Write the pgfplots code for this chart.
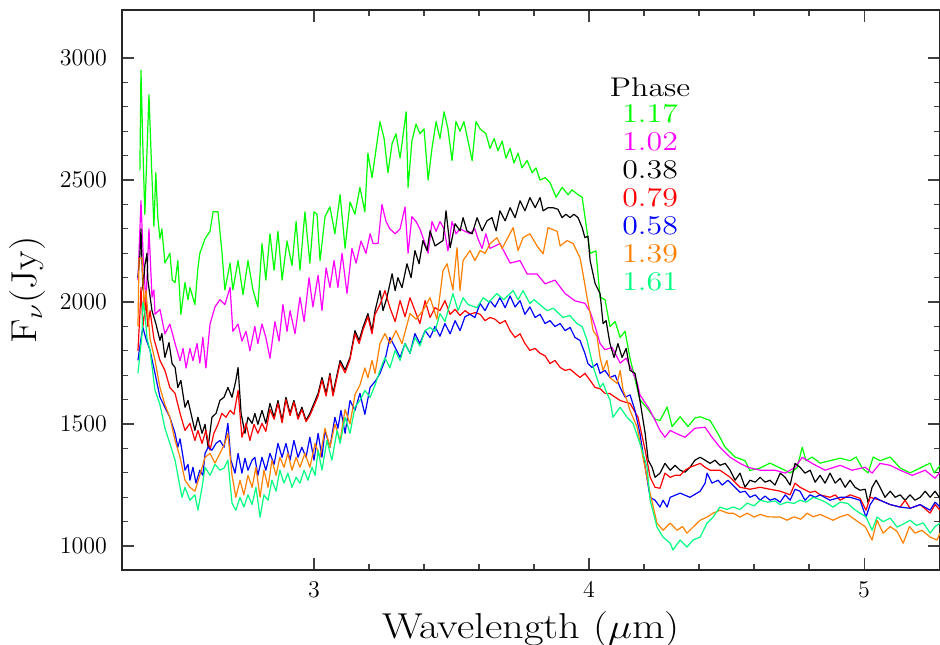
\documentclass[border=0pt]{standalone}
\usepackage{graphicx}
\usepackage{pgfplots}
\pgfplotsset{compat=1.18}
\definecolor{pggreen}{rgb}{0,1,0}
\definecolor{pgmag}{rgb}{1,0,1}
\definecolor{pgorange}{rgb}{1,0.5,0}
\definecolor{pgsgreen}{rgb}{0,1,0.5}
\newcommand{\tickfont}{\fontsize{12}{14}\selectfont}
\newcommand{\labfont}{\fontsize{18}{21}\selectfont}
\newcommand{\keyfont}{\fontsize{13.5}{15}\selectfont}
\newcommand{\wide}[1]{\scalebox{1.18}[1]{#1}}

\begin{document}
\begin{tikzpicture}
\useasboundingbox (-61pt,-37pt) rectangle (409pt,285pt);
\begin{axis}[
    at={(0,0)}, anchor=south west,
    scale only axis, width=409pt, height=280pt,
    xmin=2.302, xmax=5.276, ymin=902, ymax=3197,
    xtick={3,4,5}, ytick={1000,1500,2000,2500,3000},
    minor x tick num=4, minor y tick num=4,
    tick align=inside,
    major tick length=6pt, minor tick length=3pt,
    tick style={black!75, line width=0.6pt},
    axis line style={black!85, line width=0.75pt},
    scaled ticks=false,
    /pgf/number format/assume math mode=true,
    /pgf/number format/1000 sep={},
    ticklabel style={font=\tickfont},
    yticklabel style={xshift=-4pt},
    xticklabel style={anchor=north, yshift=-2pt},
    xlabel={\wide{Wavelength ($\mu$m)}},
    ylabel={\scalebox{1.12}[1]{F$_\nu$(Jy)}},
    label style={font=\labfont},
    xlabel style={at={(axis description cs:0.5,0)}, anchor=base, yshift=-34pt},
    ylabel style={at={(axis description cs:-0.115,0.5)}, anchor=center},
    every axis plot/.append style={line width=0.6pt, line join=round},
]
% phase 1.17
\addplot[pggreen] coordinates {
(2.367,2540) (2.371,2950) (2.377,2670) (2.385,2360) (2.400,2850) (2.410,2540) (2.418,2310) (2.425,2530) (2.432,2350) (2.440,2260) (2.447,2300) (2.458,2160) (2.476,2200) (2.485,2090) (2.495,2080) (2.505,2170) (2.516,1950) (2.531,2080) (2.542,2010) (2.549,2060) (2.567,1990) (2.578,2140) (2.585,2200) (2.604,2260) (2.622,2290) (2.633,2370) (2.651,2370) (2.665,2210) (2.676,2050) (2.695,2160) (2.705,2050) (2.724,2170) (2.742,2030) (2.760,2170) (2.778,2050) (2.796,1980) (2.811,2240) (2.825,2090) (2.840,2280) (2.855,2130) (2.869,2290) (2.884,2090) (2.902,2250) (2.920,2150) (2.935,2330) (2.949,2130) (2.967,2370) (2.985,2160) (3.000,2370) (3.011,2360) (3.022,2170) (3.040,2350) (3.058,2390) (3.076,2280) (3.095,2440) (3.113,2220) (3.131,2410) (3.149,2360) (3.167,2470) (3.185,2370) (3.196,2610) (3.211,2510) (3.240,2740) (3.255,2670) (3.269,2530) (3.284,2650) (3.298,2690) (3.313,2590) (3.335,2780) (3.342,2470) (3.356,2660) (3.371,2730) (3.385,2690) (3.400,2710) (3.415,2500) (3.429,2630) (3.444,2740) (3.458,2670) (3.473,2780) (3.487,2710) (3.502,2580) (3.516,2740) (3.531,2700) (3.545,2740) (3.560,2660) (3.575,2580) (3.589,2740) (3.604,2710) (3.625,2690) (3.640,2630) (3.655,2670) (3.669,2620) (3.684,2660) (3.698,2590) (3.713,2630) (3.727,2570) (3.742,2610) (3.756,2550) (3.775,2580) (3.793,2530) (3.807,2550) (3.822,2500) (3.840,2510) (3.858,2490) (3.880,2430) (3.902,2470) (3.924,2440) (3.938,2460) (3.960,2440) (3.975,2430) (3.985,2350) (4.004,2200) (4.025,2210) (4.040,2020) (4.058,2010) (4.076,1900) (4.095,1920) (4.113,1855) (4.131,1880) (4.149,1770) (4.185,1600) (4.215,1560) (4.240,1520) (4.258,1515) (4.284,1570) (4.302,1490) (4.331,1530) (4.360,1490) (4.385,1525) (4.404,1530) (4.440,1515) (4.469,1460) (4.495,1405) (4.531,1365) (4.567,1350) (4.585,1310) (4.622,1320) (4.658,1340) (4.695,1320) (4.731,1300) (4.756,1320) (4.775,1405) (4.789,1350) (4.811,1365) (4.840,1340) (4.876,1350) (4.913,1360) (4.949,1350) (4.971,1365) (4.993,1320) (5.015,1300) (5.033,1365) (5.058,1350) (5.095,1365) (5.131,1320) (5.167,1300) (5.204,1320) (5.240,1340) (5.255,1300) (5.276,1330)
};
% phase 1.02
\addplot[pgmag] coordinates {
(2.360,2090) (2.371,2415) (2.378,2220) (2.389,1990) (2.400,2300) (2.411,2020) (2.418,2050) (2.422,1950) (2.440,1970) (2.458,1870) (2.476,1910) (2.495,1830) (2.513,1760) (2.524,1810) (2.535,1730) (2.549,1810) (2.560,1760) (2.575,1830) (2.585,1750) (2.596,1855) (2.607,1730) (2.622,1910) (2.640,1980) (2.658,2010) (2.676,1990) (2.695,2060) (2.705,1880) (2.724,1910) (2.738,1840) (2.753,1880) (2.767,1800) (2.785,1900) (2.796,1830) (2.811,1910) (2.825,1855) (2.840,1770) (2.858,1920) (2.873,1840) (2.887,1990) (2.902,1880) (2.913,1965) (2.931,1870) (2.949,2020) (2.964,1920) (2.982,2100) (2.996,1980) (3.015,2110) (3.029,1965) (3.044,2140) (3.058,2060) (3.073,2170) (3.087,2060) (3.102,2200) (3.120,2035) (3.138,2220) (3.153,2160) (3.171,2250) (3.189,2200) (3.204,2280) (3.215,2240) (3.233,2240) (3.247,2400) (3.262,2330) (3.276,2300) (3.295,2280) (3.313,2300) (3.331,2390) (3.342,2200) (3.356,2350) (3.371,2330) (3.385,2300) (3.404,2240) (3.415,2200) (3.429,2330) (3.444,2290) (3.458,2330) (3.473,2300) (3.487,2210) (3.502,2330) (3.516,2280) (3.531,2300) (3.549,2290) (3.567,2280) (3.585,2300) (3.596,2260) (3.611,2220) (3.625,2280) (3.640,2220) (3.676,2240) (3.713,2160) (3.749,2170) (3.775,2115) (3.811,2115) (3.840,2075) (3.876,2090) (3.913,2035) (3.949,2005) (3.985,1995) (4.004,1960) (4.022,1900) (4.040,1830) (4.058,1805) (4.084,1814) (4.113,1750) (4.135,1770) (4.156,1720) (4.175,1670) (4.185,1620) (4.222,1556) (4.258,1474) (4.276,1446) (4.295,1474) (4.316,1462) (4.349,1446) (4.385,1483) (4.422,1487) (4.447,1446) (4.476,1405) (4.513,1364) (4.549,1339) (4.578,1323) (4.622,1311) (4.676,1311) (4.713,1299) (4.749,1323) (4.775,1364) (4.811,1339) (4.858,1311) (4.913,1331) (4.956,1311) (5.004,1323) (5.029,1299) (5.058,1339) (5.095,1331) (5.131,1311) (5.175,1290) (5.222,1311) (5.258,1278) (5.276,1303)
};
% phase 0.38
\addplot[black] coordinates {
(2.360,2100) (2.367,2190) (2.371,2300) (2.378,2050) (2.385,2150) (2.393,2200) (2.396,2090) (2.411,1965) (2.425,1912) (2.440,1843) (2.447,1871) (2.458,1773) (2.473,1834) (2.484,1748) (2.495,1732) (2.505,1650) (2.516,1679) (2.531,1569) (2.542,1597) (2.556,1528) (2.567,1474) (2.578,1528) (2.593,1462) (2.604,1499) (2.615,1405) (2.629,1528) (2.644,1544) (2.658,1597) (2.673,1610) (2.687,1650) (2.702,1610) (2.716,1679) (2.724,1732) (2.735,1544) (2.749,1462) (2.760,1528) (2.775,1503) (2.785,1544) (2.796,1499) (2.811,1556) (2.825,1503) (2.840,1585) (2.855,1528) (2.869,1597) (2.884,1515) (2.898,1610) (2.913,1544) (2.927,1597) (2.942,1528) (2.956,1569) (2.971,1515) (2.985,1544) (3.000,1585) (3.015,1626) (3.029,1691) (3.044,1626) (3.058,1708) (3.069,1626) (3.095,1761) (3.113,1722) (3.131,1773) (3.149,1883) (3.164,1843) (3.178,1896) (3.196,1953) (3.211,1883) (3.222,1965) (3.240,2047) (3.251,1965) (3.265,2018) (3.284,2116) (3.295,2047) (3.305,2100) (3.320,2059) (3.338,2157) (3.353,2100) (3.367,2211) (3.382,2157) (3.396,2252) (3.411,2211) (3.422,2292) (3.440,2230) (3.469,2252) (3.480,2374) (3.495,2223) (3.513,2321) (3.531,2292) (3.542,2346) (3.556,2292) (3.575,2280) (3.593,2346) (3.611,2292) (3.629,2333) (3.647,2346) (3.662,2292) (3.676,2374) (3.695,2333) (3.713,2387) (3.731,2346) (3.749,2415) (3.767,2374) (3.785,2428) (3.804,2387) (3.822,2428) (3.833,2374) (3.851,2387) (3.869,2387) (3.887,2380) (3.902,2346) (3.916,2360) (3.931,2346) (3.945,2360) (3.960,2346) (3.975,2305) (3.985,2264) (3.996,2270) (4.004,2170) (4.022,2076) (4.040,2035) (4.051,1912) (4.062,1924) (4.076,1830) (4.091,1773) (4.105,1830) (4.120,1773) (4.135,1810) (4.149,1720) (4.167,1708) (4.185,1597) (4.204,1462) (4.215,1352) (4.229,1323) (4.240,1282) (4.258,1299) (4.276,1339) (4.295,1311) (4.313,1331) (4.331,1311) (4.349,1303) (4.367,1323) (4.385,1352) (4.404,1364) (4.422,1352) (4.440,1339) (4.458,1352) (4.476,1331) (4.495,1339) (4.513,1311) (4.531,1270) (4.549,1299) (4.567,1241) (4.585,1270) (4.604,1262) (4.622,1282) (4.640,1262) (4.658,1270) (4.676,1250) (4.695,1299) (4.713,1282) (4.731,1250) (4.749,1339) (4.767,1323) (4.785,1299) (4.804,1311) (4.822,1262) (4.840,1290) (4.858,1258) (4.876,1299) (4.895,1258) (4.913,1278) (4.931,1241) (4.949,1270) (4.967,1241) (4.985,1229) (5.004,1233) (5.015,1176) (5.029,1241) (5.044,1270) (5.058,1241) (5.076,1200) (5.095,1225) (5.113,1200) (5.131,1210) (5.149,1188) (5.167,1210) (5.185,1188) (5.204,1200) (5.222,1225) (5.240,1200) (5.258,1225) (5.276,1196)
};
% phase 0.79
\addplot[red] coordinates {
(2.360,1800) (2.367,1950) (2.371,2060) (2.378,1900) (2.389,2000) (2.396,1900) (2.404,1965) (2.418,1850) (2.440,1761) (2.458,1720) (2.476,1650) (2.495,1626) (2.513,1544) (2.531,1474) (2.549,1503) (2.567,1433) (2.578,1474) (2.593,1421) (2.607,1474) (2.622,1393) (2.636,1462) (2.651,1499) (2.665,1544) (2.680,1528) (2.695,1556) (2.709,1540) (2.724,1638) (2.738,1446) (2.753,1503) (2.767,1433) (2.782,1499) (2.796,1462) (2.811,1503) (2.825,1470) (2.840,1560) (2.855,1520) (2.869,1585) (2.884,1505) (2.898,1600) (2.913,1535) (2.927,1590) (2.942,1520) (2.956,1560) (2.971,1510) (2.985,1535) (3.000,1575) (3.015,1615) (3.029,1680) (3.044,1615) (3.058,1700) (3.069,1615) (3.095,1750) (3.113,1710) (3.131,1765) (3.149,1870) (3.164,1830) (3.178,1885) (3.196,1940) (3.211,1870) (3.222,1950) (3.240,1990) (3.258,2047) (3.276,1977) (3.295,1920) (3.313,2006) (3.331,1940) (3.349,2018) (3.367,1965) (3.385,1912) (3.404,2006) (3.422,1937) (3.440,1977) (3.458,1965) (3.476,2006) (3.495,1950) (3.513,1970) (3.531,1945) (3.549,1965) (3.567,1950) (3.585,1957) (3.604,1950) (3.622,1924) (3.640,1937) (3.658,1930) (3.676,1912) (3.695,1924) (3.713,1883) (3.731,1855) (3.749,1870) (3.767,1830) (3.785,1802) (3.804,1810) (3.822,1790) (3.840,1780) (3.858,1748) (3.876,1761) (3.895,1732) (3.913,1720) (3.931,1725) (3.949,1708) (3.967,1691) (3.985,1708) (4.004,1679) (4.022,1650) (4.040,1645) (4.058,1626) (4.076,1625) (4.095,1610) (4.113,1597) (4.131,1590) (4.149,1585) (4.178,1528) (4.204,1393) (4.222,1282) (4.240,1241) (4.258,1237) (4.276,1299) (4.295,1282) (4.313,1290) (4.331,1290) (4.349,1311) (4.367,1323) (4.404,1339) (4.422,1323) (4.440,1311) (4.476,1311) (4.513,1282) (4.549,1241) (4.585,1233) (4.622,1241) (4.658,1233) (4.695,1225) (4.731,1210) (4.749,1258) (4.767,1241) (4.804,1220) (4.822,1225) (4.840,1210) (4.876,1200) (4.895,1210) (4.913,1188) (4.949,1210) (4.985,1196) (5.007,1147) (5.022,1200) (5.058,1188) (5.095,1170) (5.131,1160) (5.149,1188) (5.167,1155) (5.204,1170) (5.240,1135) (5.258,1170) (5.276,1147)
};
% phase 0.58
\addplot[blue] coordinates {
(2.360,1761) (2.371,1850) (2.378,1896) (2.389,1850) (2.404,1802) (2.422,1708) (2.440,1610) (2.458,1569) (2.476,1528) (2.495,1462) (2.505,1405) (2.513,1440) (2.524,1364) (2.531,1311) (2.542,1335) (2.549,1270) (2.560,1323) (2.571,1258) (2.585,1311) (2.596,1290) (2.604,1380) (2.615,1405) (2.629,1393) (2.644,1421) (2.658,1433) (2.673,1405) (2.687,1503) (2.698,1352) (2.713,1299) (2.724,1380) (2.738,1299) (2.749,1360) (2.760,1311) (2.775,1352) (2.785,1364) (2.796,1290) (2.811,1364) (2.825,1311) (2.840,1380) (2.855,1335) (2.869,1421) (2.884,1364) (2.898,1421) (2.913,1352) (2.927,1433) (2.942,1364) (2.956,1405) (2.971,1364) (2.985,1446) (3.000,1352) (3.015,1462) (3.029,1364) (3.040,1474) (3.058,1405) (3.076,1528) (3.087,1483) (3.098,1556) (3.113,1462) (3.131,1597) (3.149,1556) (3.167,1626) (3.185,1540) (3.204,1650) (3.225,1679) (3.240,1708) (3.258,1761) (3.276,1855) (3.295,1814) (3.313,1773) (3.331,1830) (3.349,1790) (3.367,1871) (3.385,1830) (3.404,1883) (3.422,1855) (3.440,1900) (3.458,1860) (3.476,1912) (3.495,1870) (3.513,1924) (3.531,1883) (3.549,1940) (3.567,1950) (3.585,1937) (3.604,1994) (3.622,1965) (3.640,2006) (3.658,1980) (3.676,2018) (3.695,1977) (3.713,2025) (3.731,1980) (3.749,2006) (3.767,1950) (3.785,1980) (3.804,1937) (3.822,1950) (3.840,1912) (3.858,1924) (3.876,1900) (3.895,1912) (3.913,1883) (3.931,1896) (3.949,1855) (3.967,1843) (3.985,1790) (3.996,1748) (4.011,1732) (4.029,1748) (4.040,1708) (4.058,1720) (4.076,1691) (4.095,1700) (4.113,1650) (4.131,1610) (4.149,1620) (4.167,1556) (4.185,1462) (4.204,1323) (4.222,1200) (4.240,1188) (4.258,1160) (4.269,1188) (4.284,1160) (4.295,1200) (4.331,1217) (4.367,1200) (4.404,1225) (4.422,1258) (4.429,1299) (4.447,1258) (4.469,1270) (4.484,1250) (4.505,1270) (4.531,1241) (4.549,1220) (4.567,1225) (4.585,1200) (4.604,1210) (4.622,1188) (4.640,1205) (4.658,1188) (4.676,1195) (4.695,1180) (4.713,1210) (4.731,1188) (4.749,1233) (4.767,1225) (4.785,1188) (4.804,1210) (4.822,1200) (4.840,1210) (4.876,1188) (4.913,1200) (4.949,1200) (4.985,1188) (5.007,1119) (5.022,1170) (5.040,1200) (5.058,1188) (5.095,1170) (5.131,1160) (5.167,1155) (5.204,1170) (5.240,1147) (5.258,1180) (5.276,1160)
};
% phase 1.39
\addplot[pgorange] coordinates {
(2.360,1900) (2.364,2180) (2.375,2180) (2.382,1980) (2.389,2050) (2.404,1850) (2.422,1761) (2.440,1650) (2.458,1580) (2.476,1528) (2.495,1433) (2.513,1364) (2.531,1270) (2.549,1241) (2.567,1225) (2.585,1290) (2.604,1364) (2.622,1380) (2.640,1340) (2.658,1380) (2.676,1421) (2.687,1462) (2.702,1290) (2.716,1200) (2.731,1270) (2.745,1210) (2.760,1290) (2.775,1241) (2.789,1323) (2.804,1200) (2.818,1311) (2.833,1241) (2.847,1352) (2.862,1290) (2.876,1364) (2.891,1323) (2.905,1380) (2.920,1311) (2.935,1364) (2.949,1323) (2.967,1380) (2.985,1323) (3.004,1421) (3.022,1364) (3.040,1483) (3.058,1405) (3.076,1500) (3.095,1433) (3.113,1560) (3.131,1500) (3.149,1620) (3.167,1660) (3.185,1730) (3.196,1690) (3.211,1761) (3.222,1708) (3.240,1830) (3.258,1871) (3.276,1830) (3.298,1883) (3.320,1830) (3.349,1953) (3.371,1930) (3.396,1965) (3.422,2018) (3.447,1930) (3.469,2129) (3.484,2157) (3.505,2050) (3.520,2223) (3.531,2047) (3.542,2170) (3.567,2211) (3.585,2170) (3.604,2211) (3.622,2200) (3.640,2239) (3.665,2264) (3.684,2220) (3.724,2305) (3.742,2211) (3.760,2264) (3.785,2280) (3.811,2230) (3.833,2198) (3.851,2305) (3.884,2290) (3.895,2230) (3.920,2252) (3.942,2240) (3.967,2182) (3.978,2116) (3.993,2018) (4.004,1953) (4.015,1883) (4.029,1860) (4.040,1773) (4.051,1720) (4.065,1761) (4.076,1690) (4.102,1667) (4.113,1720) (4.124,1638) (4.138,1597) (4.149,1556) (4.175,1487) (4.196,1364) (4.222,1217) (4.247,1094) (4.269,1065) (4.295,1094) (4.320,1065) (4.340,1080) (4.356,1053) (4.380,1080) (4.404,1106) (4.429,1119) (4.451,1135) (4.476,1147) (4.505,1135) (4.524,1135) (4.549,1119) (4.575,1135) (4.600,1119) (4.622,1130) (4.650,1120) (4.695,1119) (4.720,1106) (4.745,1120) (4.770,1110) (4.793,1135) (4.815,1120) (4.840,1130) (4.887,1106) (4.913,1120) (4.940,1130) (4.965,1110) (4.985,1094) (5.004,1080) (5.029,1025) (5.047,1106) (5.069,1053) (5.095,1080) (5.120,1060) (5.142,1012) (5.165,1080) (5.185,1053) (5.210,1065) (5.240,1037) (5.265,1025) (5.276,1053)
};
% phase 1.61
\addplot[pgsgreen] coordinates {
(2.360,1708) (2.375,1871) (2.378,2000) (2.385,1960) (2.393,1850) (2.404,1802) (2.422,1638) (2.440,1580) (2.458,1483) (2.476,1421) (2.495,1352) (2.505,1290) (2.520,1200) (2.531,1241) (2.549,1188) (2.567,1210) (2.578,1147) (2.593,1241) (2.604,1323) (2.622,1290) (2.640,1335) (2.658,1311) (2.673,1320) (2.687,1352) (2.702,1176) (2.716,1147) (2.731,1200) (2.745,1160) (2.760,1210) (2.775,1170) (2.789,1241) (2.804,1119) (2.818,1210) (2.833,1188) (2.847,1270) (2.862,1225) (2.876,1311) (2.891,1258) (2.905,1299) (2.920,1241) (2.935,1282) (2.949,1258) (2.964,1311) (2.978,1270) (2.993,1323) (3.004,1290) (3.015,1393) (3.029,1311) (3.047,1433) (3.065,1352) (3.084,1474) (3.095,1421) (3.113,1528) (3.131,1462) (3.149,1570) (3.167,1597) (3.185,1638) (3.204,1610) (3.222,1660) (3.240,1720) (3.258,1773) (3.276,1730) (3.295,1802) (3.313,1761) (3.331,1830) (3.349,1790) (3.367,1855) (3.385,1820) (3.404,1883) (3.422,1896) (3.440,1880) (3.458,1953) (3.476,1920) (3.505,2035) (3.524,1965) (3.542,2018) (3.560,1990) (3.593,1977) (3.615,2018) (3.636,2000) (3.665,2035) (3.690,2010) (3.724,2047) (3.742,2010) (3.760,2047) (3.785,1994) (3.800,2010) (3.847,1965) (3.870,1975) (3.905,1937) (3.930,1945) (3.956,1912) (3.975,1900) (3.993,1843) (4.015,1735) (4.040,1650) (4.051,1667) (4.065,1626) (4.076,1600) (4.087,1528) (4.113,1569) (4.138,1528) (4.160,1503) (4.185,1421) (4.211,1323) (4.222,1188) (4.247,1078) (4.269,1037) (4.295,1012) (4.305,984) (4.331,1025) (4.356,996) (4.378,1025) (4.404,1037) (4.429,1094) (4.451,1119) (4.476,1160) (4.500,1150) (4.524,1160) (4.549,1150) (4.575,1176) (4.600,1165) (4.622,1188) (4.650,1180) (4.676,1185) (4.695,1170) (4.720,1180) (4.745,1175) (4.767,1188) (4.790,1180) (4.815,1200) (4.840,1190) (4.860,1180) (4.887,1160) (4.913,1180) (4.940,1175) (4.965,1150) (4.985,1135) (5.007,1120) (5.029,1065) (5.047,1119) (5.069,1100) (5.095,1115) (5.120,1078) (5.142,1090) (5.167,1106) (5.190,1085) (5.215,1095) (5.240,1053) (5.258,1080) (5.276,1094)
};
% phase key
\node[font=\keyfont, text=black] at (axis cs:4.222,2881) {\wide{Phase}};
\node[font=\keyfont, text=pggreen] at (axis cs:4.222,2771) {\wide{1.17}};
\node[font=\keyfont, text=pgmag] at (axis cs:4.222,2656) {\wide{1.02}};
\node[font=\keyfont, text=black] at (axis cs:4.222,2542) {\wide{0.38}};
\node[font=\keyfont, text=red] at (axis cs:4.222,2427) {\wide{0.79}};
\node[font=\keyfont, text=blue] at (axis cs:4.222,2313) {\wide{0.58}};
\node[font=\keyfont, text=pgorange] at (axis cs:4.222,2198) {\wide{1.39}};
\node[font=\keyfont, text=pgsgreen] at (axis cs:4.222,2084) {\wide{1.61}};
\end{axis}
\end{tikzpicture}
\end{document}
